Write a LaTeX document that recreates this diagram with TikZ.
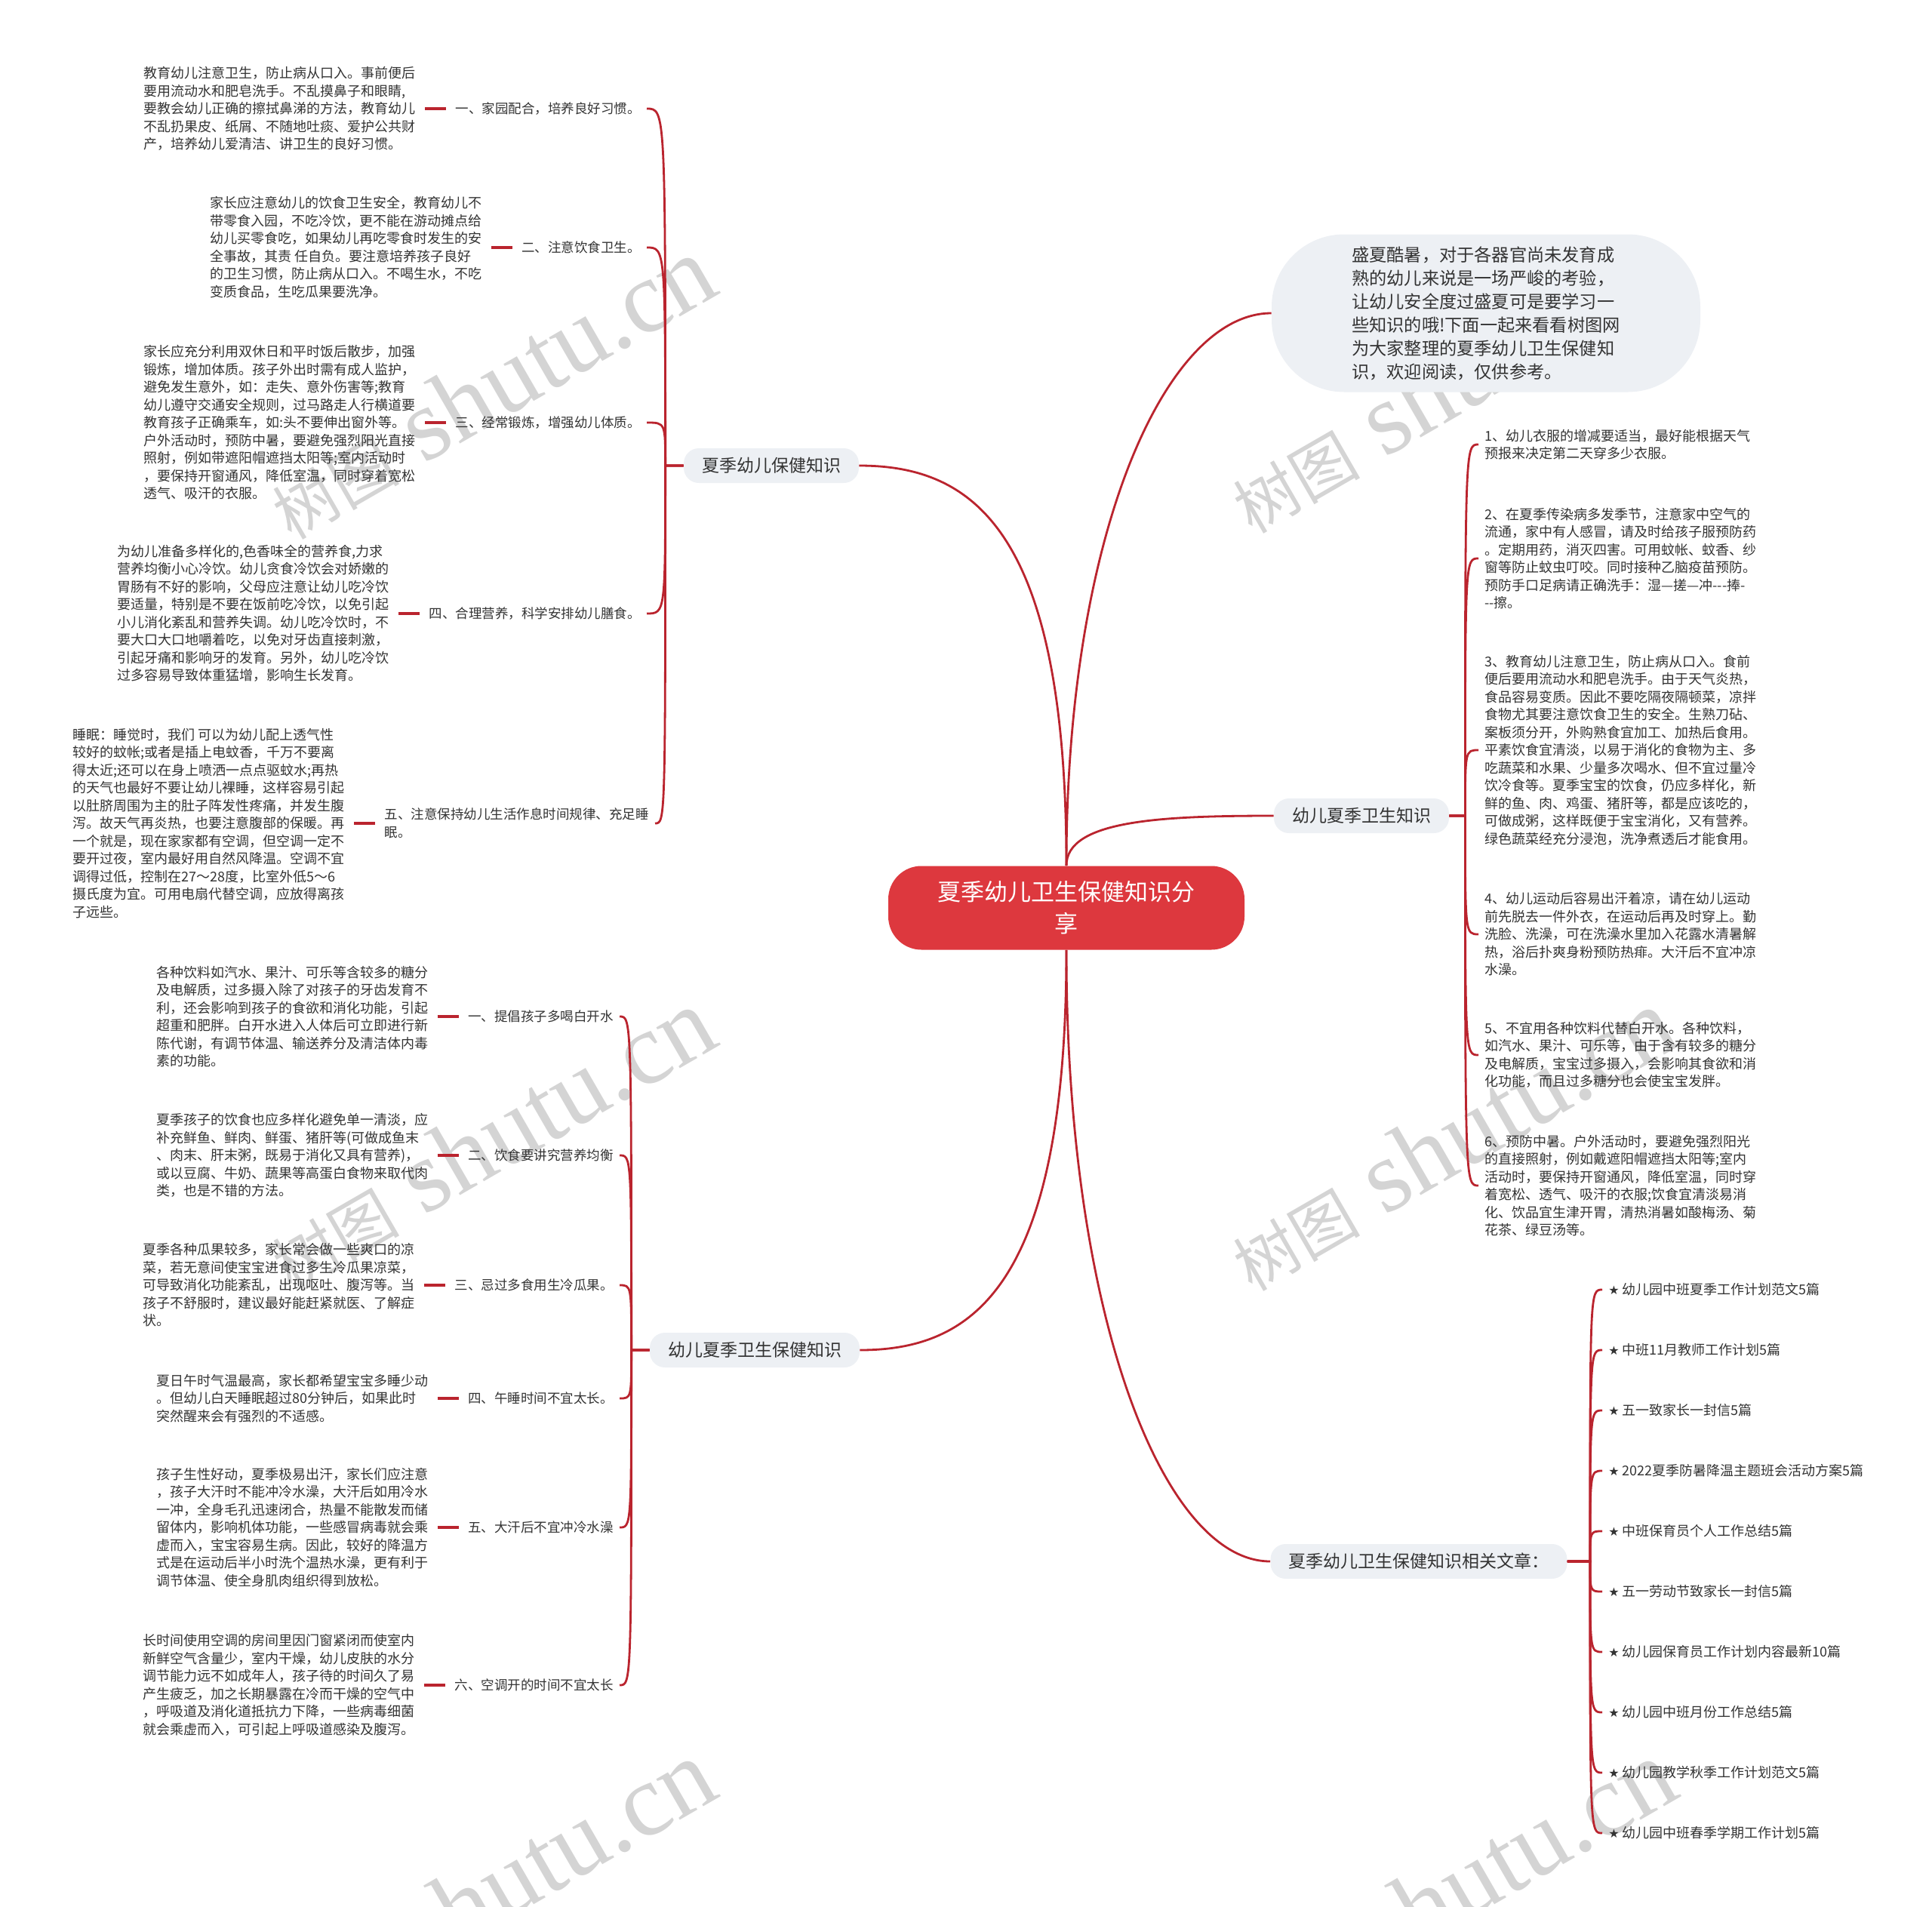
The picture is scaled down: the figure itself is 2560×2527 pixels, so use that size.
\documentclass[tikz,border=0pt]{standalone}
\usepackage{fontspec}
\setmainfont{Noto Sans CJK SC}
\newfontfamily\symfont{DejaVu Sans}
\newfontfamily\wmserif{Liberation Serif}
\usetikzlibrary{positioning,calc}

\definecolor{linkred}{RGB}{186,36,46}
\definecolor{rootred}{RGB}{221,56,62}
\definecolor{branchgray}{RGB}{237,240,244}
\definecolor{textdark}{RGB}{51,51,51}

\begin{document}
\begin{tikzpicture}[x=0.5pt, y=-0.5pt,
    conn/.style={draw=linkred, line width=1.4pt},
    redbar/.style={draw=linkred, line width=2.2pt, shorten <=2pt, shorten >=2pt},
    rootnode/.style={fill=rootred, text=white, rounded corners=22pt, minimum width=236pt, minimum height=55.5pt, align=center, font=\fontsize{15.5}{21}\selectfont},
    branchnode/.style={fill=branchgray, text=textdark, rounded corners=10pt, inner xsep=12pt, minimum height=23pt, font=\fontsize{11.5}{14}\selectfont},
    intronode/.style={branchnode, rounded corners=48pt, minimum width=284pt, minimum height=104.5pt, align=left, font=\fontsize{11.6}{15.5}\selectfont},
    topicnode/.style={text=textdark, inner sep=4pt, align=left, font=\fontsize{8.75}{12.25}\selectfont},
    detailnode/.style={text=textdark, inner sep=4pt, align=left, font=\fontsize{9}{11.75}\selectfont},
    wmark/.style={text=black!17, rotate=30, inner sep=0pt, font=\wmserif\fontsize{68}{68}\selectfont}]

    % Parametri
    \def\detgap{18pt}   % distanza tra testo e argomento
    \def\trunk{24}      % lunghezza del tratto verso il tronco

    \useasboundingbox (0,0) rectangle (2560,2527);

    % Filigrana
    \foreach \wx/\wy in {650/514, 650/1510, 1923/506, 1923/1510, 650/2506, 1923/2506}
        \node[wmark] at (\wx,\wy) {{\rmfamily\fontsize{42}{42}\selectfont 树图}\ shutu.cn};

    % Nodo centrale e rami
    \node[rootnode] (ctr) at (1413,1203) {夏季幼儿卫生保健知识分\\享};
    \node[branchnode] (L1) at (1022,617) {夏季幼儿保健知识};
    \node[branchnode] (L2) at (1000,1789) {幼儿夏季卫生保健知识};
    \node[intronode] (R0) at (1969,415) {盛夏酷暑，对于各器官尚未发育成\\熟的幼儿来说是一场严峻的考验，\\让幼儿安全度过盛夏可是要学习一\\些知识的哦!下面一起来看看树图网\\为大家整理的夏季幼儿卫生保健知\\识，欢迎阅读，仅供参考。};
    \node[branchnode] (R1) at (1804,1081) {幼儿夏季卫生知识};
    \node[branchnode] (R2) at (1880,2069) {夏季幼儿卫生保健知识相关文章：};

    \draw[conn] (ctr.north) .. controls +(0,-446) and +(150,0) .. (L1.east);
    \draw[conn] (ctr.south) .. controls +(0,446) and +(150,0) .. (L2.east);
    \draw[conn] (ctr.north) .. controls +(0,-440) and +(-140,0) .. (R0.west);
    \draw[conn] (ctr.north) .. controls +(0,-60) and +(-150,0) .. (R1.west);
    \draw[conn] (ctr.south) .. controls +(0,490) and +(-140,0) .. (R2.west);

    % Ramo sinistro in alto
    \node[topicnode, anchor=east] (a1) at (857,144) {一、家园配合，培养良好习惯。};
    \node[topicnode, anchor=east] (a2) at (857,328) {二、注意饮食卫生。};
    \node[topicnode, anchor=east] (a3) at (857,560) {三、经常锻炼，增强幼儿体质。};
    \node[topicnode, anchor=east] (a4) at (857,813) {四、合理营养，科学安排幼儿膳食。};
    \node[topicnode, anchor=east] (a5) at (868,1091) {五、注意保持幼儿生活作息时间规律、充足睡\\眠。};

    \node[detailnode, left=\detgap of a1] (ad1) {教育幼儿注意卫生，防止病从口入。事前便后\\要用流动水和肥皂洗手。不乱摸鼻子和眼睛,\\要教会幼儿正确的擦拭鼻涕的方法，教育幼儿\\不乱扔果皮、纸屑、不随地吐痰、爱护公共财\\产，培养幼儿爱清洁、讲卫生的良好习惯。};
    \node[detailnode, left=\detgap of a2] (ad2) {家长应注意幼儿的饮食卫生安全，教育幼儿不\\带零食入园，不吃冷饮，更不能在游动摊点给\\幼儿买零食吃，如果幼儿再吃零食时发生的安\\全事故，其责 任自负。要注意培养孩子良好\\的卫生习惯，防止病从口入。不喝生水，不吃\\变质食品，生吃瓜果要洗净。};
    \node[detailnode, left=\detgap of a3] (ad3) {家长应充分利用双休日和平时饭后散步，加强\\锻炼，增加体质。孩子外出时需有成人监护，\\避免发生意外，如：走失、意外伤害等;教育\\幼儿遵守交通安全规则，过马路走人行横道要\\教育孩子正确乘车，如:头不要伸出窗外等。\\户外活动时，预防中暑，要避免强烈阳光直接\\照射，例如带遮阳帽遮挡太阳等;室内活动时\\，要保持开窗通风，降低室温，同时穿着宽松\\透气、吸汗的衣服。};
    \node[detailnode, left=\detgap of a4] (ad4) {为幼儿准备多样化的,色香味全的营养食,力求\\营养均衡小心冷饮。幼儿贪食冷饮会对娇嫩的\\胃肠有不好的影响，父母应注意让幼儿吃冷饮\\要适量，特别是不要在饭前吃冷饮，以免引起\\小儿消化紊乱和营养失调。幼儿吃冷饮时，不\\要大口大口地嚼着吃，以免对牙齿直接刺激，\\引起牙痛和影响牙的发育。另外，幼儿吃冷饮\\过多容易导致体重猛增，影响生长发育。};
    \node[detailnode, left=\detgap of a5] (ad5) {睡眠：睡觉时，我们 可以为幼儿配上透气性\\较好的蚊帐;或者是插上电蚊香，千万不要离\\得太近;还可以在身上喷洒一点点驱蚊水;再热\\的天气也最好不要让幼儿裸睡，这样容易引起\\以肚脐周围为主的肚子阵发性疼痛，并发生腹\\泻。故天气再炎热，也要注意腹部的保暖。再\\一个就是，现在家家都有空调，但空调一定不\\要开过夜，室内最好用自然风降温。空调不宜\\调得过低，控制在27～28度，比室外低5～6\\摄氏度为宜。可用电扇代替空调，应放得离孩\\子远些。};

    \coordinate (trunkL1) at ($(L1.west)+(-\trunk,0)$);
    \foreach \i in {1,...,5} {
        \draw[conn] (L1.west) -- (trunkL1) .. controls (trunkL1 |- a\i.east) .. (a\i.east);
        \draw[redbar] (ad\i) -- (a\i);
    }

    % Ramo sinistro in basso
    \node[topicnode, anchor=east] (b1) at (821,1347) {一、提倡孩子多喝白开水};
    \node[topicnode, anchor=east] (b2) at (821,1531) {二、饮食要讲究营养均衡};
    \node[topicnode, anchor=east] (b3) at (821,1703) {三、忌过多食用生冷瓜果。};
    \node[topicnode, anchor=east] (b4) at (821,1853) {四、午睡时间不宜太长。};
    \node[topicnode, anchor=east] (b5) at (821,2024) {五、大汗后不宜冲冷水澡};
    \node[topicnode, anchor=east] (b6) at (821,2233) {六、空调开的时间不宜太长};

    \node[detailnode, left=\detgap of b1] (bd1) {各种饮料如汽水、果汁、可乐等含较多的糖分\\及电解质，过多摄入除了对孩子的牙齿发育不\\利，还会影响到孩子的食欲和消化功能，引起\\超重和肥胖。白开水进入人体后可立即进行新\\陈代谢，有调节体温、输送养分及清洁体内毒\\素的功能。};
    \node[detailnode, left=\detgap of b2] (bd2) {夏季孩子的饮食也应多样化避免单一清淡，应\\补充鲜鱼、鲜肉、鲜蛋、猪肝等(可做成鱼末\\、肉末、肝末粥，既易于消化又具有营养)，\\或以豆腐、牛奶、蔬果等高蛋白食物来取代肉\\类，也是不错的方法。};
    \node[detailnode, left=\detgap of b3] (bd3) {夏季各种瓜果较多，家长常会做一些爽口的凉\\菜，若无意间使宝宝进食过多生冷瓜果凉菜，\\可导致消化功能紊乱，出现呕吐、腹泻等。当\\孩子不舒服时，建议最好能赶紧就医、了解症\\状。};
    \node[detailnode, left=\detgap of b4] (bd4) {夏日午时气温最高，家长都希望宝宝多睡少动\\。但幼儿白天睡眠超过80分钟后，如果此时\\突然醒来会有强烈的不适感。};
    \node[detailnode, left=\detgap of b5] (bd5) {孩子生性好动，夏季极易出汗，家长们应注意\\，孩子大汗时不能冲冷水澡，大汗后如用冷水\\一冲，全身毛孔迅速闭合，热量不能散发而储\\留体内，影响机体功能，一些感冒病毒就会乘\\虚而入，宝宝容易生病。因此，较好的降温方\\式是在运动后半小时洗个温热水澡，更有利于\\调节体温、使全身肌肉组织得到放松。};
    \node[detailnode, left=\detgap of b6] (bd6) {长时间使用空调的房间里因门窗紧闭而使室内\\新鲜空气含量少，室内干燥，幼儿皮肤的水分\\调节能力远不如成年人，孩子待的时间久了易\\产生疲乏，加之长期暴露在冷而干燥的空气中\\，呼吸道及消化道抵抗力下降，一些病毒细菌\\就会乘虚而入，可引起上呼吸道感染及腹泻。};

    \coordinate (trunkL2) at ($(L2.west)+(-\trunk,0)$);
    \foreach \i in {1,...,6} {
        \draw[conn] (L2.west) -- (trunkL2) .. controls (trunkL2 |- b\i.east) .. (b\i.east);
        \draw[redbar] (bd\i) -- (b\i);
    }

    % Ramo destro: consigli
    \node[detailnode, anchor=west] (k1) at (1959,589) {1、幼儿衣服的增减要适当，最好能根据天气\\预报来决定第二天穿多少衣服。};
    \node[detailnode, anchor=west] (k2) at (1959,740) {2、在夏季传染病多发季节，注意家中空气的\\流通，家中有人感冒，请及时给孩子服预防药\\。定期用药，消灭四害。可用蚊帐、蚊香、纱\\窗等防止蚊虫叮咬。同时接种乙脑疫苗预防。\\预防手口足病请正确洗手：湿—搓—冲{-}{-}{-}捧{-}\\{-}{-}擦。};
    \node[detailnode, anchor=west] (k3) at (1959,994) {3、教育幼儿注意卫生，防止病从口入。食前\\便后要用流动水和肥皂洗手。由于天气炎热，\\食品容易变质。因此不要吃隔夜隔顿菜，凉拌\\食物尤其要注意饮食卫生的安全。生熟刀砧、\\案板须分开，外购熟食宜加工、加热后食用。\\平素饮食宜清淡，以易于消化的食物为主、多\\吃蔬菜和水果、少量多次喝水、但不宜过量冷\\饮冷食等。夏季宝宝的饮食，仍应多样化，新\\鲜的鱼、肉、鸡蛋、猪肝等，都是应该吃的，\\可做成粥，这样既便于宝宝消化，又有营养。\\绿色蔬菜经充分浸泡，洗净煮透后才能食用。};
    \node[detailnode, anchor=west] (k4) at (1959,1238) {4、幼儿运动后容易出汗着凉，请在幼儿运动\\前先脱去一件外衣，在运动后再及时穿上。勤\\洗脸、洗澡，可在洗澡水里加入花露水清暑解\\热，浴后扑爽身粉预防热痱。大汗后不宜冲凉\\水澡。};
    \node[detailnode, anchor=west] (k5) at (1959,1398) {5、不宜用各种饮料代替白开水。各种饮料，\\如汽水、果汁、可乐等，由于含有较多的糖分\\及电解质，宝宝过多摄入，会影响其食欲和消\\化功能，而且过多糖分也会使宝宝发胖。};
    \node[detailnode, anchor=west] (k6) at (1959,1571) {6、预防中暑。户外活动时，要避免强烈阳光\\的直接照射，例如戴遮阳帽遮挡太阳等;室内\\活动时，要保持开窗通风，降低室温，同时穿\\着宽松、透气、吸汗的衣服;饮食宜清淡易消\\化、饮品宜生津开胃，清热消暑如酸梅汤、菊\\花茶、绿豆汤等。};

    \coordinate (trunkR1) at ($(R1.east)+(21,0)$);
    \foreach \i in {1,...,6}
        \draw[conn] (R1.east) -- (trunkR1) .. controls (trunkR1 |- k\i.west) .. (k\i.west);

    % Ramo destro: articoli correlati
    \foreach \t [count=\i] in {幼儿园中班夏季工作计划范文5篇, 中班11月教师工作计划5篇, 五一致家长一封信5篇, 2022夏季防暑降温主题班会活动方案5篇, 中班保育员个人工作总结5篇, 五一劳动节致家长一封信5篇, 幼儿园保育员工作计划内容最新10篇, 幼儿园中班月份工作总结5篇, 幼儿园教学秋季工作计划范文5篇, 幼儿园中班春季学期工作计划5篇}
        \node[detailnode, anchor=west] (r\i) at (2123,{1629+80*\i}) {{\symfont\fontsize{8}{10}\selectfont ★} \t};

    \coordinate (trunkR2) at ($(R2.east)+(30,0)$);
    \foreach \i in {1,...,10}
        \draw[conn] (R2.east) -- (trunkR2) .. controls (trunkR2 |- r\i.west) .. (r\i.west);

\end{tikzpicture}
\end{document}
